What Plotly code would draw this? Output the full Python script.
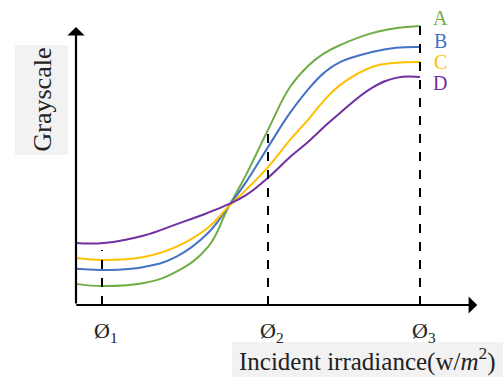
import plotly.graph_objects as go

# sample positions along the irradiance axis (arbitrary units)
x_pts = [0, 0.7, 1.7, 2.5, 3.3, 3.8, 4.25, 4.8, 5.35, 5.8, 6.2, 6.6, 7.4, 8.0, 8.6]

# grayscale (arbitrary units)
curve_A = [0.76, 0.68, 0.79, 1.19, 2.09, 3.49, 4.68, 6.30, 7.84, 8.60, 9.05, 9.35, 9.78, 9.96, 10.04]
curve_B = [1.30, 1.26, 1.37, 1.73, 2.59, 3.52, 4.42, 5.68, 6.91, 7.75, 8.35, 8.74, 9.10, 9.25, 9.28]
curve_C = [1.69, 1.62, 1.73, 2.09, 2.78, 3.52, 4.14, 4.96, 5.94, 6.66, 7.35, 7.91, 8.56, 8.71, 8.74]
curve_D = [2.23, 2.23, 2.50, 2.90, 3.32, 3.62, 3.95, 4.58, 5.32, 5.86, 6.40, 6.91, 7.81, 8.17, 8.20]

series_names = ["A", "B", "C", "D"]
series_values = [curve_A, curve_B, curve_C, curve_D]
series_colors = ["#70AD47", "#4472C4", "#FFC000", "#7030A0"]

# marked irradiance levels
phi_labels = ["1", "2", "3"]
phi_x = [0.65, 4.8, 8.6]
phi_top = [1.98, 6.3, 10.1]

label_y = [10.32, 9.50, 8.74, 7.99]

W, H = 503, 377
X0, XS = 76, 40.0     # pixel of x=0, pixels per unit
Y0, YS = 305, 27.8    # pixel of y=0, pixels per unit
xr = [-X0 / XS, (W - X0) / XS]
yr = [(Y0 - H) / YS, Y0 / YS]

SERIF = "Liberation Serif, Times New Roman, serif"

fig = go.Figure()
for name, vals, col in zip(series_names, series_values, series_colors):
    fig.add_trace(go.Scatter(x=x_pts, y=vals, mode="lines", name=name,
                             line=dict(color=col, width=2, shape="spline", smoothing=1.2),
                             showlegend=False, hoverinfo="skip"))

shapes = []
# gray label boxes (paper coords)
def pbox(x0, y0, x1, y1):
    return dict(type="rect", xref="paper", yref="paper",
                x0=x0 / W, x1=x1 / W, y0=1 - y1 / H, y1=1 - y0 / H,
                fillcolor="#F2F2F2", line=dict(width=0), layer="below")
shapes.append(pbox(15, 45, 68, 155))
shapes.append(pbox(232, 342, 503, 377))

for px, top in zip(phi_x, phi_top):
    shapes.append(dict(type="line", x0=px, x1=px, y0=0, y1=top, xref="x", yref="y",
                       line=dict(color="black", width=2, dash="dash")))

annotations = []
# axes with arrows
annotations.append(dict(x=0, y=10.0, ax=0, ay=0, xref="x", yref="y", axref="x", ayref="y",
                        showarrow=True, arrowhead=1, arrowsize=1.3, arrowwidth=2.2,
                        arrowcolor="black", text="", standoff=0, startstandoff=0))
annotations.append(dict(x=10.03, y=0, ax=-0.03, ay=0, xref="x", yref="y", axref="x", ayref="y",
                        showarrow=True, arrowhead=1, arrowsize=1.3, arrowwidth=2.2,
                        arrowcolor="black", text="", standoff=0, startstandoff=0))

for name, ly, col in zip(series_names, label_y, series_colors):
    annotations.append(dict(x=9.1, y=ly, xref="x", yref="y", text=name, showarrow=False,
                            xanchor="center", yanchor="middle", borderpad=0,
                            font=dict(family=SERIF, size=20, color=col)))

for lab, px in zip(phi_labels, phi_x):
    annotations.append(dict(x=px + 0.1, y=-0.97, xref="x", yref="y",
                            text="Ø<sub>" + lab + "</sub>", showarrow=False,
                            xanchor="center", yanchor="middle",
                            font=dict(family=SERIF, size=22, color="#222222")))

annotations.append(dict(x=41.5 / W, y=1 - 100 / H, xref="paper", yref="paper",
                        text="Grayscale", textangle=-90, showarrow=False,
                        xanchor="center", yanchor="middle",
                        font=dict(family=SERIF, size=26, color="#222222")))
annotations.append(dict(x=367 / W, y=1 - 359 / H, xref="paper", yref="paper",
                        text="Incident irradiance(w/<i>m</i><sup>2</sup>)", showarrow=False,
                        xanchor="center", yanchor="middle",
                        font=dict(family=SERIF, size=25, color="#222222")))

fig.update_layout(width=W, height=H, margin=dict(l=0, r=0, t=0, b=0),
                  paper_bgcolor="white", plot_bgcolor="white",
                  xaxis=dict(range=xr, visible=False, fixedrange=True),
                  yaxis=dict(range=yr, visible=False, fixedrange=True),
                  shapes=shapes, annotations=annotations)

fig.write_html("out.html", config={"displayModeBar": False},
               post_script="document.body.style.margin='0';document.body.style.overflow='hidden';")
